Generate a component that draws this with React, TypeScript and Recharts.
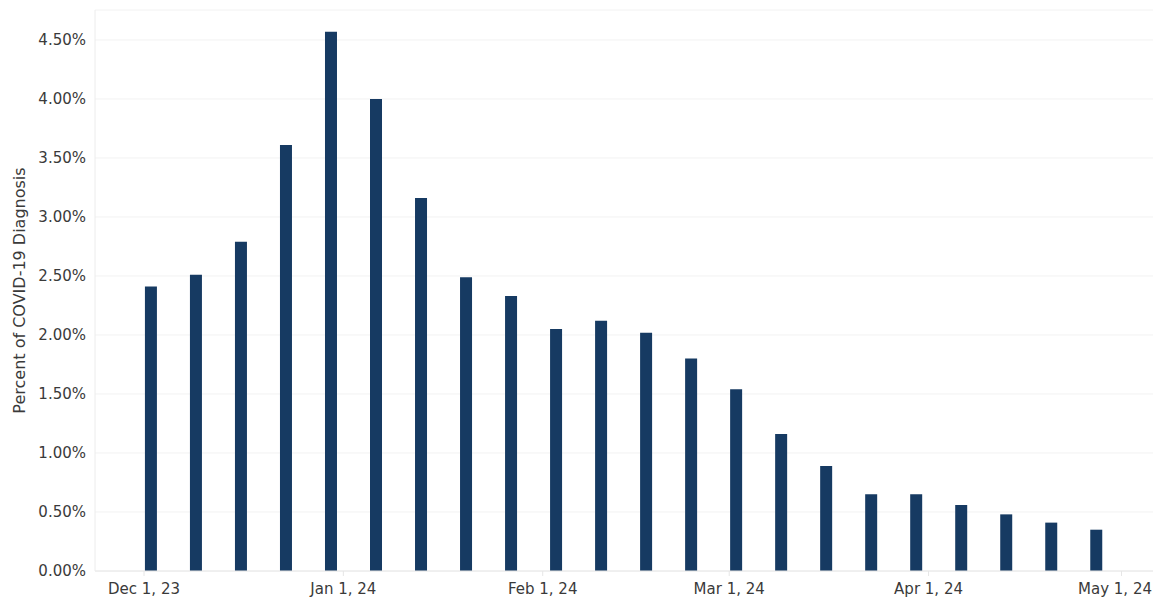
import { Bar, BarChart, CartesianGrid, XAxis, YAxis, Label } from "recharts"

// weekly periods (week ending Saturday), UTC
const weeks = [
  "2023-12-02", "2023-12-09", "2023-12-16", "2023-12-23", "2023-12-30",
  "2024-01-06", "2024-01-13", "2024-01-20", "2024-01-27", "2024-02-03",
  "2024-02-10", "2024-02-17", "2024-02-24", "2024-03-02", "2024-03-09",
  "2024-03-16", "2024-03-23", "2024-03-30", "2024-04-06", "2024-04-13",
  "2024-04-20", "2024-04-27",
]

// percent of tests with a COVID-19 diagnosis
const percent = [
  2.41, 2.51, 2.79, 3.61, 4.57, 4.0, 3.16, 2.49, 2.33, 2.05, 2.12,
  2.02, 1.8, 1.54, 1.16, 0.89, 0.65, 0.65, 0.56, 0.48, 0.41, 0.35,
]

const xTickDates = ["2023-12-01", "2024-01-01", "2024-02-01", "2024-03-01", "2024-04-01", "2024-05-01"]
const yTicks = [0, 0.5, 1, 1.5, 2, 2.5, 3, 3.5, 4, 4.5]

const MONTHS = ["Jan", "Feb", "Mar", "Apr", "May", "Jun", "Jul", "Aug", "Sep", "Oct", "Nov", "Dec"]
const DAY = 86400000
const W = 1153

const toTs = (d: string) => Date.parse(d + "T00:00:00Z")

const data = weeks.map((w, i) => ({ date: toTs(w), value: percent[i] }))
const xTicks = xTickDates.map(toTs)

const fmtDate = (ts: number) => {
  const d = new Date(ts)
  return `${MONTHS[d.getUTCMonth()]} ${d.getUTCDate()}, ${String(d.getUTCFullYear()).slice(2)}`
}

const font = "'DejaVu Sans', sans-serif"
const textColor = "#3a3a3a"
const tickStyle = { fill: textColor, fontSize: 15, fontFamily: font }

// date tick; the last one is pulled in so it is not cut at the right edge
function DateTick({ x, y, payload }: any) {
  const label = fmtDate(payload.value)
  const nearEdge = x + 38 > W
  return (
    <text
      x={nearEdge ? W - 1 : x}
      y={y}
      dy="0.71em"
      textAnchor={nearEdge ? "end" : "middle"}
      fill={textColor}
      fontSize={15}
      fontFamily={font}
    >
      {label}
    </text>
  )
}

export default function App() {
  const dec1 = xTicks[0]
  return (
    <div style={{ position: "absolute", left: 0, top: 0, background: "#fff" }}>
      <BarChart
        width={W}
        height={603}
        data={data}
        margin={{ top: 10, right: 0, left: 0, bottom: 0 }}
      >
        <CartesianGrid vertical={false} stroke="#f2f2f2" />
        <XAxis
          dataKey="date"
          type="number"
          scale="time"
          domain={[dec1 - 7.62 * DAY, dec1 + 156.9 * DAY]}
          ticks={xTicks}
          axisLine={{ stroke: "#e6e6e6" }}
          tickLine={{ stroke: "#e6e6e6" }}
          tickSize={5}
          tickMargin={7}
          tick={<DateTick />}
          height={32}
          interval={0}
        />
        <YAxis
          type="number"
          domain={[0, 4.754]}
          ticks={yTicks}
          tickFormatter={(v: number) => `${v.toFixed(2)}%`}
          axisLine={{ stroke: "#ececec" }}
          tickLine={false}
          tickSize={0}
          tickMargin={9}
          tick={tickStyle}
          width={95}
        >
          <Label
            value="Percent of COVID-19 Diagnosis"
            angle={-90}
            position="insideLeft"
            offset={19}
            style={{ fill: textColor, fontSize: 16, fontFamily: font, textAnchor: "middle" }}
          />
        </YAxis>
        <Bar dataKey="value" fill="#163a62" barSize={12} isAnimationActive={false} />
      </BarChart>
    </div>
  )
}
